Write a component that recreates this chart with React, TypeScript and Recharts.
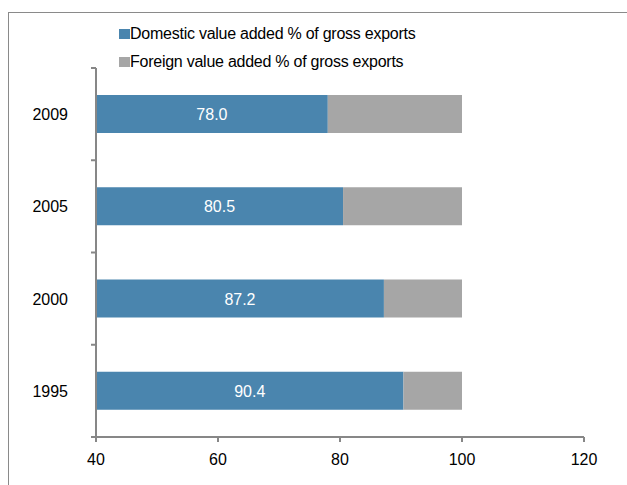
import { BarChart, Bar, XAxis, YAxis, Legend, LabelList } from "recharts";

const years = ["2009", "2005", "2000", "1995"];
const domestic = [78.0, 80.5, 87.2, 90.4];
const foreign = [22.0, 19.5, 12.8, 9.6];
const xTicks = [40, 60, 80, 100, 120];

const data = years.map((year, i) => ({
  year,
  domestic: domestic[i],
  foreign: foreign[i],
}));

const W = 627;
const H = 485;
const X_AXIS_H = 30;
const MARGIN = { top: 68, right: 43, bottom: 18, left: 36 };
const Y_AXIS_W = 60;
const PLOT_LEFT = MARGIN.left + Y_AXIS_W;
const PLOT_H = H - MARGIN.top - MARGIN.bottom - X_AXIS_H;
const AXIS_COLOR = "#878787";
const FONT = "'Liberation Sans', Arial, sans-serif";

function YearTick(props: any) {
  const { x, y, payload, index } = props;
  const band = PLOT_H / years.length;
  return (
    <g>
      <text x={x} y={y} dy={6} textAnchor="end" fontSize={16} fill="#000" fontFamily={FONT}>
        {payload.value}
      </text>
      <line x1={PLOT_LEFT - 5} x2={PLOT_LEFT} y1={y - band / 2} y2={y - band / 2} stroke={AXIS_COLOR} strokeWidth={2} />
      {index === years.length - 1 && (
        <line x1={PLOT_LEFT - 5} x2={PLOT_LEFT} y1={y + band / 2} y2={y + band / 2} stroke={AXIS_COLOR} strokeWidth={2} />
      )}
    </g>
  );
}

function BarValue(props: any) {
  const { x, y, width, height, value } = props;
  const left = Math.max(x, PLOT_LEFT);
  const cx = (left + x + width) / 2;
  return (
    <text x={cx} y={y + height / 2} dy={6} textAnchor="middle" fontSize={16} fill="#fff" fontFamily={FONT}>
      {Number(value).toFixed(1)}
    </text>
  );
}

function LegendBox({ payload }: any) {
  return (
    <div style={{ fontFamily: FONT, fontSize: 16, letterSpacing: "-0.25px", color: "#000" }}>
      {(payload || []).map((p: any) => (
        <div key={p.value} style={{ display: "flex", alignItems: "center", height: 28 }}>
          <span style={{ display: "inline-block", width: 11, height: 10, background: p.color }} />
          <span>{p.value}</span>
        </div>
      ))}
    </div>
  );
}

export default function App() {
  return (
    <div style={{ position: "relative", width: W, height: H, background: "#fff", overflow: "hidden" }}>
      <style>{`body{margin:0}`}</style>
      <div
        style={{
          position: "absolute",
          left: 8,
          top: 12,
          width: W,
          height: H,
          borderTop: "1.5px solid #8a8a8a",
          borderLeft: "1.5px solid #8a8a8a",
        }}
      />
      <BarChart
        width={W}
        height={H}
        data={data}
        layout="vertical"
        margin={MARGIN}
        barSize={38}
        style={{ position: "absolute", left: 0, top: 0 }}
      >
        <XAxis
          type="number"
          domain={[40, 120]}
          ticks={xTicks}
          allowDataOverflow
          height={X_AXIS_H}
          stroke={AXIS_COLOR}
          strokeWidth={2}
          tickSize={5}
          tickMargin={12}
          tick={{ fontSize: 16, fill: "#000", fontFamily: FONT }}
        />
        <YAxis
          type="category"
          dataKey="year"
          width={Y_AXIS_W}
          stroke={AXIS_COLOR}
          strokeWidth={2}
          tickLine={false}
          tickSize={0}
          tickMargin={28}
          tick={<YearTick />}
        />
        <Legend
          layout="vertical"
          align="center"
          verticalAlign="middle"
          content={<LegendBox />}
          wrapperStyle={{ position: "absolute", left: 119, top: 20, width: 400 }}
        />
        <Bar
          dataKey="domestic"
          name="Domestic value added % of gross exports"
          stackId="a"
          fill="#4A85AE"
          isAnimationActive={false}
        >
          <LabelList dataKey="domestic" content={<BarValue />} />
        </Bar>
        <Bar
          dataKey="foreign"
          name="Foreign value added % of gross exports"
          stackId="a"
          fill="#A6A6A6"
          isAnimationActive={false}
        />
      </BarChart>
    </div>
  );
}
